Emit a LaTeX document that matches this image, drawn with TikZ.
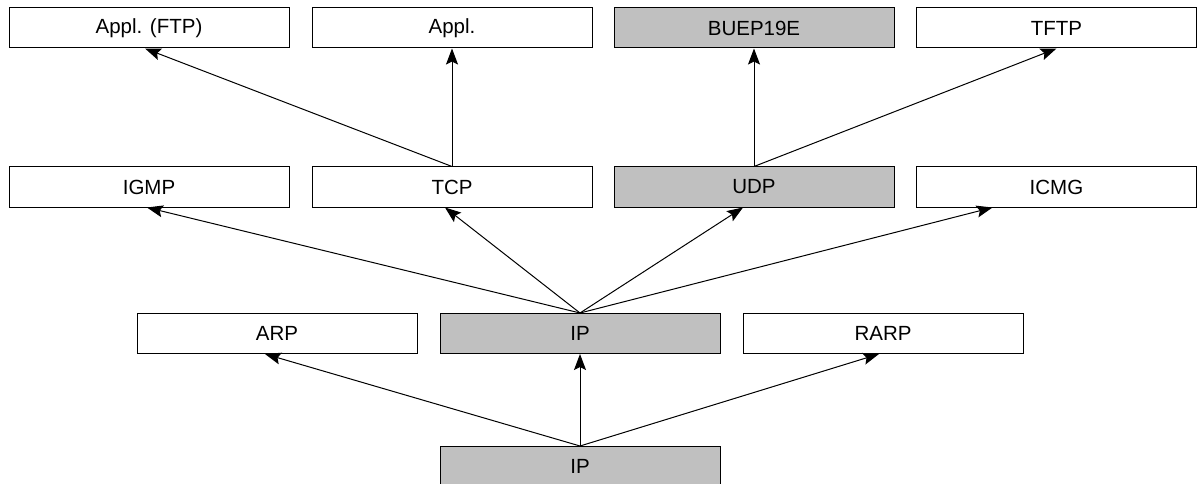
\documentclass[tikz,border=0pt]{standalone}
\usepackage{fontspec}
\setmainfont{Liberation Sans}
\usetikzlibrary{arrows.meta}
\definecolor{boxgray}{HTML}{C0C0C0}
\tikzset{
  box/.style={draw=black, line width=1pt, minimum width=280pt, minimum height=40pt, inner sep=0pt, font=\fontsize{20.5}{24}\selectfont, fill=white},
  grey/.style={box, fill=boxgray},
  link/.style={line width=1pt, -{Stealth[length=16pt, width=12pt, inset=3pt]}}
}
\begin{document}
\begin{tikzpicture}[x=1pt, y=-1pt]
\useasboundingbox (0,0) rectangle (1200,484);
\clip (0,0) rectangle (1200,484);
% row 1
\node[box]  (ftp)  at (149,28) {Appl. (FTP)};
\node[box]  (appl) at (452,28) {Appl.};
\node[grey] (buep) at (754,28) {BUEP19E};
\node[box]  (tftp) at (1056.5,28) {TFTP};
% row 2
\node[box]  (igmp) at (149,187) {IGMP};
\node[box]  (tcp)  at (452,187) {TCP};
\node[grey] (udp)  at (754,187) {UDP};
\node[box]  (icmg) at (1056.5,187) {ICMG};
% row 3
\node[box]  (arp)  at (277,333.5) {ARP};
\node[grey] (ip)   at (580,333.5) {IP};
\node[box]  (rarp) at (883,333.5) {RARP};
% row 4
\node[grey] (ipb)  at (580,466.5) {IP};
% connectors
\draw[link] (tcp.north) -- ([xshift=-4pt]ftp.south);
\draw[link] (tcp.north) -- (appl.south);
\draw[link] (udp.north) -- (buep.south);
\draw[link] (udp.north) -- (tftp.south);
\draw[link] (ip.north) -- ([xshift=-2pt]igmp.south);
\draw[link] (ip.north) -- ([xshift=-7pt]tcp.south);
\draw[link] (ip.north) -- ([xshift=-11pt]udp.south);
\draw[link] (ip.north) -- ([xshift=-64pt]icmg.south);
\draw[link] (ipb.north) -- ([xshift=-12pt]arp.south);
\draw[link] (ipb.north) -- (ip.south);
\draw[link] (ipb.north) -- ([xshift=-4pt]rarp.south);
\end{tikzpicture}
\end{document}
